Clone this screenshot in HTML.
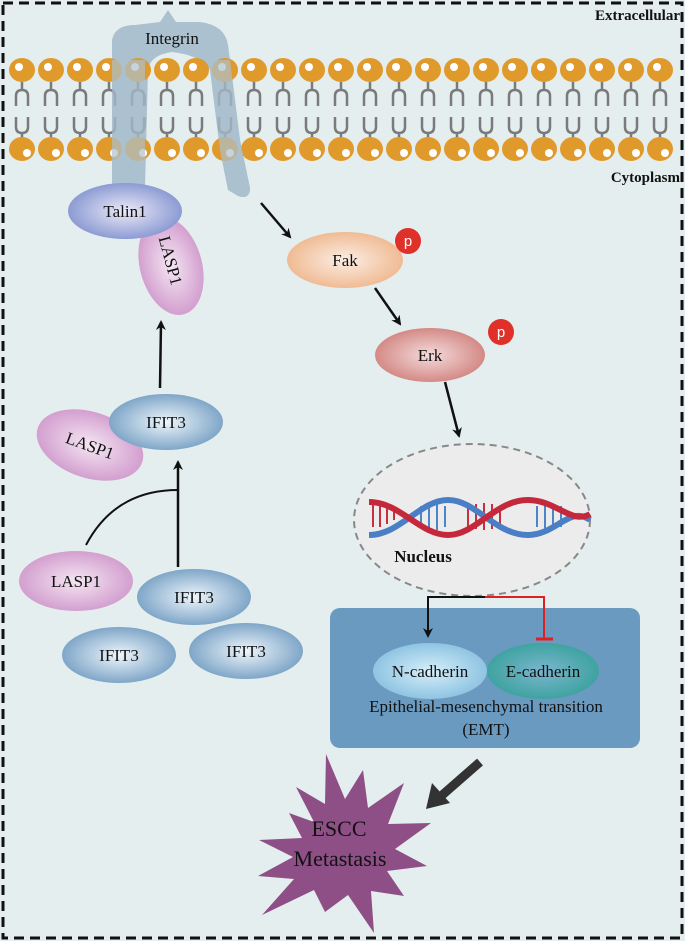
<!DOCTYPE html>
<html><head><meta charset="utf-8"><style>
html,body{margin:0;padding:0;background:#fff}
svg{display:block}
text{font-family:"Liberation Serif",serif;fill:#111}
</style></head><body>
<svg width="685" height="941" viewBox="0 0 685 941" xmlns="http://www.w3.org/2000/svg">
<defs>
<radialGradient id="gBlue"><stop offset="0" stop-color="#eef6fb"/><stop offset="1" stop-color="#7fa6c8"/></radialGradient>
<radialGradient id="gPink"><stop offset="0" stop-color="#f5e6f3"/><stop offset="1" stop-color="#d39fcf"/></radialGradient>
<radialGradient id="gTalin"><stop offset="0" stop-color="#eceaf8"/><stop offset="1" stop-color="#8c9bd3"/></radialGradient>
<radialGradient id="gFak"><stop offset="0" stop-color="#fbeee4"/><stop offset="1" stop-color="#f0bb94"/></radialGradient>
<radialGradient id="gErk"><stop offset="0" stop-color="#f3dcdc"/><stop offset="1" stop-color="#d48a86"/></radialGradient>
<radialGradient id="gN"><stop offset="0" stop-color="#d6effa"/><stop offset="1" stop-color="#8fc4e2"/></radialGradient>
<radialGradient id="gE"><stop offset="0" stop-color="#7ab6cf"/><stop offset="1" stop-color="#3fa3a0"/></radialGradient>
<marker id="ah" markerWidth="10" markerHeight="10" refX="8" refY="5" orient="auto" markerUnits="userSpaceOnUse"><path d="M0,0 L10,5 L0,10 L3,5 z" fill="#111"/></marker>
</defs>
<rect x="0" y="0" width="685" height="941" fill="#e4eeee"/>
<rect x="3" y="3" width="679" height="935" fill="none" stroke="#111" stroke-width="3" stroke-dasharray="10,6"/>

<!-- Integrin -->
<path d="M112,40 Q115,25 135,25 L160,22 L168,10 L176,22 L200,22 Q225,25 228,45 L230,60 L240,140 L250,188 Q250,200 238,196 L228,190 L220,150 L210,70 Q200,55 172,52 Q150,55 148,70 L145,188 L112,188 Z" fill="#abc1cf"/>
<text x="172" y="44" font-size="17" text-anchor="middle">Integrin</text>

<g>
<g stroke="#7a7a7a" stroke-width="2.5" fill="none">
<path d="M22,82 v8 M16,106 v-10 q0,-6 6,-6 q6,0 6,6 v10 M16,117 v10 q0,6 6,6 q6,0 6,-6 v-10 M22,133 v8
M51,82 v8 M45,106 v-10 q0,-6 6,-6 q6,0 6,6 v10 M45,117 v10 q0,6 6,6 q6,0 6,-6 v-10 M51,133 v8
M80,82 v8 M74,106 v-10 q0,-6 6,-6 q6,0 6,6 v10 M74,117 v10 q0,6 6,6 q6,0 6,-6 v-10 M80,133 v8
M109,82 v8 M103,106 v-10 q0,-6 6,-6 q6,0 6,6 v10 M103,117 v10 q0,6 6,6 q6,0 6,-6 v-10 M109,133 v8
M138,82 v8 M132,106 v-10 q0,-6 6,-6 q6,0 6,6 v10 M132,117 v10 q0,6 6,6 q6,0 6,-6 v-10 M138,133 v8
M167,82 v8 M161,106 v-10 q0,-6 6,-6 q6,0 6,6 v10 M161,117 v10 q0,6 6,6 q6,0 6,-6 v-10 M167,133 v8
M196,82 v8 M190,106 v-10 q0,-6 6,-6 q6,0 6,6 v10 M190,117 v10 q0,6 6,6 q6,0 6,-6 v-10 M196,133 v8
M225,82 v8 M219,106 v-10 q0,-6 6,-6 q6,0 6,6 v10 M219,117 v10 q0,6 6,6 q6,0 6,-6 v-10 M225,133 v8
M254,82 v8 M248,106 v-10 q0,-6 6,-6 q6,0 6,6 v10 M248,117 v10 q0,6 6,6 q6,0 6,-6 v-10 M254,133 v8
M283,82 v8 M277,106 v-10 q0,-6 6,-6 q6,0 6,6 v10 M277,117 v10 q0,6 6,6 q6,0 6,-6 v-10 M283,133 v8
M312,82 v8 M306,106 v-10 q0,-6 6,-6 q6,0 6,6 v10 M306,117 v10 q0,6 6,6 q6,0 6,-6 v-10 M312,133 v8
M341,82 v8 M335,106 v-10 q0,-6 6,-6 q6,0 6,6 v10 M335,117 v10 q0,6 6,6 q6,0 6,-6 v-10 M341,133 v8
M370,82 v8 M364,106 v-10 q0,-6 6,-6 q6,0 6,6 v10 M364,117 v10 q0,6 6,6 q6,0 6,-6 v-10 M370,133 v8
M399,82 v8 M393,106 v-10 q0,-6 6,-6 q6,0 6,6 v10 M393,117 v10 q0,6 6,6 q6,0 6,-6 v-10 M399,133 v8
M428,82 v8 M422,106 v-10 q0,-6 6,-6 q6,0 6,6 v10 M422,117 v10 q0,6 6,6 q6,0 6,-6 v-10 M428,133 v8
M457,82 v8 M451,106 v-10 q0,-6 6,-6 q6,0 6,6 v10 M451,117 v10 q0,6 6,6 q6,0 6,-6 v-10 M457,133 v8
M486,82 v8 M480,106 v-10 q0,-6 6,-6 q6,0 6,6 v10 M480,117 v10 q0,6 6,6 q6,0 6,-6 v-10 M486,133 v8
M515,82 v8 M509,106 v-10 q0,-6 6,-6 q6,0 6,6 v10 M509,117 v10 q0,6 6,6 q6,0 6,-6 v-10 M515,133 v8
M544,82 v8 M538,106 v-10 q0,-6 6,-6 q6,0 6,6 v10 M538,117 v10 q0,6 6,6 q6,0 6,-6 v-10 M544,133 v8
M573,82 v8 M567,106 v-10 q0,-6 6,-6 q6,0 6,6 v10 M567,117 v10 q0,6 6,6 q6,0 6,-6 v-10 M573,133 v8
M602,82 v8 M596,106 v-10 q0,-6 6,-6 q6,0 6,6 v10 M596,117 v10 q0,6 6,6 q6,0 6,-6 v-10 M602,133 v8
M631,82 v8 M625,106 v-10 q0,-6 6,-6 q6,0 6,6 v10 M625,117 v10 q0,6 6,6 q6,0 6,-6 v-10 M631,133 v8
M660,82 v8 M654,106 v-10 q0,-6 6,-6 q6,0 6,6 v10 M654,117 v10 q0,6 6,6 q6,0 6,-6 v-10 M660,133 v8"/>
</g>
<g fill="#e09a2c">
<ellipse cx="22" cy="70" rx="13" ry="12"/><ellipse cx="51" cy="70" rx="13" ry="12"/><ellipse cx="80" cy="70" rx="13" ry="12"/><ellipse cx="109" cy="70" rx="13" ry="12"/><ellipse cx="138" cy="70" rx="13" ry="12"/><ellipse cx="167" cy="70" rx="13" ry="12"/><ellipse cx="196" cy="70" rx="13" ry="12"/><ellipse cx="225" cy="70" rx="13" ry="12"/><ellipse cx="254" cy="70" rx="13" ry="12"/><ellipse cx="283" cy="70" rx="13" ry="12"/><ellipse cx="312" cy="70" rx="13" ry="12"/><ellipse cx="341" cy="70" rx="13" ry="12"/><ellipse cx="370" cy="70" rx="13" ry="12"/><ellipse cx="399" cy="70" rx="13" ry="12"/><ellipse cx="428" cy="70" rx="13" ry="12"/><ellipse cx="457" cy="70" rx="13" ry="12"/><ellipse cx="486" cy="70" rx="13" ry="12"/><ellipse cx="515" cy="70" rx="13" ry="12"/><ellipse cx="544" cy="70" rx="13" ry="12"/><ellipse cx="573" cy="70" rx="13" ry="12"/><ellipse cx="602" cy="70" rx="13" ry="12"/><ellipse cx="631" cy="70" rx="13" ry="12"/><ellipse cx="660" cy="70" rx="13" ry="12"/>
<ellipse cx="22" cy="149" rx="13" ry="12"/><ellipse cx="51" cy="149" rx="13" ry="12"/><ellipse cx="80" cy="149" rx="13" ry="12"/><ellipse cx="109" cy="149" rx="13" ry="12"/><ellipse cx="138" cy="149" rx="13" ry="12"/><ellipse cx="167" cy="149" rx="13" ry="12"/><ellipse cx="196" cy="149" rx="13" ry="12"/><ellipse cx="225" cy="149" rx="13" ry="12"/><ellipse cx="254" cy="149" rx="13" ry="12"/><ellipse cx="283" cy="149" rx="13" ry="12"/><ellipse cx="312" cy="149" rx="13" ry="12"/><ellipse cx="341" cy="149" rx="13" ry="12"/><ellipse cx="370" cy="149" rx="13" ry="12"/><ellipse cx="399" cy="149" rx="13" ry="12"/><ellipse cx="428" cy="149" rx="13" ry="12"/><ellipse cx="457" cy="149" rx="13" ry="12"/><ellipse cx="486" cy="149" rx="13" ry="12"/><ellipse cx="515" cy="149" rx="13" ry="12"/><ellipse cx="544" cy="149" rx="13" ry="12"/><ellipse cx="573" cy="149" rx="13" ry="12"/><ellipse cx="602" cy="149" rx="13" ry="12"/><ellipse cx="631" cy="149" rx="13" ry="12"/><ellipse cx="660" cy="149" rx="13" ry="12"/>
</g>
<g fill="#fff">
<circle cx="19" cy="67" r="4"/><circle cx="48" cy="67" r="4"/><circle cx="77" cy="67" r="4"/><circle cx="106" cy="67" r="4"/><circle cx="135" cy="67" r="4"/><circle cx="164" cy="67" r="4"/><circle cx="193" cy="67" r="4"/><circle cx="222" cy="67" r="4"/><circle cx="251" cy="67" r="4"/><circle cx="280" cy="67" r="4"/><circle cx="309" cy="67" r="4"/><circle cx="338" cy="67" r="4"/><circle cx="367" cy="67" r="4"/><circle cx="396" cy="67" r="4"/><circle cx="425" cy="67" r="4"/><circle cx="454" cy="67" r="4"/><circle cx="483" cy="67" r="4"/><circle cx="512" cy="67" r="4"/><circle cx="541" cy="67" r="4"/><circle cx="570" cy="67" r="4"/><circle cx="599" cy="67" r="4"/><circle cx="628" cy="67" r="4"/><circle cx="657" cy="67" r="4"/>
<circle cx="27" cy="153" r="4"/><circle cx="56" cy="153" r="4"/><circle cx="85" cy="153" r="4"/><circle cx="114" cy="153" r="4"/><circle cx="143" cy="153" r="4"/><circle cx="172" cy="153" r="4"/><circle cx="201" cy="153" r="4"/><circle cx="230" cy="153" r="4"/><circle cx="259" cy="153" r="4"/><circle cx="288" cy="153" r="4"/><circle cx="317" cy="153" r="4"/><circle cx="346" cy="153" r="4"/><circle cx="375" cy="153" r="4"/><circle cx="404" cy="153" r="4"/><circle cx="433" cy="153" r="4"/><circle cx="462" cy="153" r="4"/><circle cx="491" cy="153" r="4"/><circle cx="520" cy="153" r="4"/><circle cx="549" cy="153" r="4"/><circle cx="578" cy="153" r="4"/><circle cx="607" cy="153" r="4"/><circle cx="636" cy="153" r="4"/><circle cx="665" cy="153" r="4"/>
</g>
</g>
<path d="M112,60 L145,60 L145,188 L112,188 Z" fill="#abc1cf" opacity="0.7"/>
<path d="M210,60 L230,60 L240,140 L250,188 Q250,200 238,196 L228,190 L220,150 Z" fill="#abc1cf" opacity="0.7"/>

<text x="680" y="20" font-size="15" font-weight="bold" text-anchor="end">Extracellular</text>
<text x="680" y="182" font-size="15" font-weight="bold" text-anchor="end">Cytoplasm</text>

<ellipse cx="171" cy="266" rx="31" ry="50" transform="rotate(-15 171 266)" fill="url(#gPink)"/>
<text font-size="17" transform="translate(165,262) rotate(75)" text-anchor="middle">LASP1</text>
<ellipse cx="125" cy="211" rx="57" ry="28" fill="url(#gTalin)"/>
<text x="125" y="217" font-size="17" text-anchor="middle">Talin1</text>

<line x1="160" y1="388" x2="161" y2="322" stroke="#111" stroke-width="2.5" marker-end="url(#ah)"/>

<ellipse cx="90" cy="445" rx="55" ry="33" transform="rotate(18 90 445)" fill="url(#gPink)"/>
<text font-size="17" transform="translate(88,451) rotate(20)" text-anchor="middle">LASP1</text>
<ellipse cx="166" cy="422" rx="57" ry="28" fill="url(#gBlue)"/>
<text x="166" y="428" font-size="17" text-anchor="middle">IFIT3</text>

<path d="M86,545 Q115,490 178,490" fill="none" stroke="#111" stroke-width="2"/>
<line x1="178" y1="567" x2="178" y2="462" stroke="#111" stroke-width="2.5" marker-end="url(#ah)"/>

<ellipse cx="76" cy="581" rx="57" ry="30" fill="url(#gPink)"/>
<text x="76" y="587" font-size="17" text-anchor="middle">LASP1</text>
<ellipse cx="194" cy="597" rx="57" ry="28" fill="url(#gBlue)"/>
<text x="194" y="603" font-size="17" text-anchor="middle">IFIT3</text>
<ellipse cx="119" cy="655" rx="57" ry="28" fill="url(#gBlue)"/>
<text x="119" y="661" font-size="17" text-anchor="middle">IFIT3</text>
<ellipse cx="246" cy="651" rx="57" ry="28" fill="url(#gBlue)"/>
<text x="246" y="657" font-size="17" text-anchor="middle">IFIT3</text>

<line x1="261" y1="203" x2="290" y2="237" stroke="#111" stroke-width="2.5" marker-end="url(#ah)"/>
<ellipse cx="345" cy="260" rx="58" ry="28" fill="url(#gFak)"/>
<text x="345" y="266" font-size="17" text-anchor="middle">Fak</text>
<circle cx="408" cy="241" r="13" fill="#e0302a"/>
<text x="408" y="246" font-size="15" text-anchor="middle" style="font-family:'Liberation Sans',sans-serif;fill:#fff">p</text>

<line x1="375" y1="288" x2="400" y2="324" stroke="#111" stroke-width="2.5" marker-end="url(#ah)"/>
<ellipse cx="430" cy="355" rx="55" ry="27" fill="url(#gErk)"/>
<text x="430" y="361" font-size="17" text-anchor="middle">Erk</text>
<circle cx="501" cy="332" r="13" fill="#e0302a"/>
<text x="501" y="337" font-size="15" text-anchor="middle" style="font-family:'Liberation Sans',sans-serif;fill:#fff">p</text>

<line x1="445" y1="382" x2="459" y2="436" stroke="#111" stroke-width="2.5" marker-end="url(#ah)"/>

<ellipse cx="472" cy="520" rx="118" ry="76" fill="#ececec" stroke="#888" stroke-width="2" stroke-dasharray="7,5"/>
<g stroke-width="2">
<g stroke="#c83040"><line x1="373" y1="503" x2="373" y2="527"/><line x1="380" y1="503" x2="380" y2="527"/><line x1="387" y1="504" x2="387" y2="524"/><line x1="394" y1="506" x2="394" y2="520"/><line x1="468" y1="506" x2="468" y2="527"/><line x1="476" y1="504" x2="476" y2="529"/><line x1="484" y1="503" x2="484" y2="530"/><line x1="492" y1="504" x2="492" y2="529"/><line x1="500" y1="506" x2="500" y2="527"/></g>
<g stroke="#4a86c8"><line x1="421" y1="506" x2="421" y2="527"/><line x1="429" y1="504" x2="429" y2="530"/><line x1="437" y1="504" x2="437" y2="530"/><line x1="445" y1="506" x2="445" y2="527"/><line x1="537" y1="506" x2="537" y2="527"/><line x1="545" y1="504" x2="545" y2="530"/><line x1="553" y1="504" x2="553" y2="530"/><line x1="561" y1="506" x2="561" y2="527"/></g>
</g>
<path d="M369,535 C400,535 420,500 448,500 C476,500 495,535 528,535 C556,535 570,505 590,520" fill="none" stroke="#4a7fc6" stroke-width="6"/>
<path d="M369,502 C400,502 420,535 448,535 C476,535 495,500 528,500 C556,500 572,525 590,514" fill="none" stroke="#c5283a" stroke-width="6"/>
<text x="423" y="562" font-size="17" font-weight="bold" text-anchor="middle">Nucleus</text>

<rect x="330" y="608" width="310" height="140" rx="10" fill="#6a9ac0"/>
<path d="M485,597 L428,597 L428,636" fill="none" stroke="#111" stroke-width="2" marker-end="url(#ah)"/>
<path d="M485,597 L544,597 L544,638" fill="none" stroke="#e02020" stroke-width="2"/>
<line x1="536" y1="639" x2="553" y2="639" stroke="#e02020" stroke-width="3"/>
<ellipse cx="430" cy="671" rx="57" ry="28" fill="url(#gN)"/>
<text x="430" y="677" font-size="17" text-anchor="middle">N-cadherin</text>
<ellipse cx="543" cy="671" rx="56" ry="28" fill="url(#gE)"/>
<text x="543" y="677" font-size="17" text-anchor="middle">E-cadherin</text>
<text x="486" y="712" font-size="17" text-anchor="middle">Epithelial-mesenchymal transition</text>
<text x="486" y="735" font-size="17" text-anchor="middle">(EMT)</text>

<line x1="480" y1="762" x2="440" y2="797" stroke="#333" stroke-width="9"/>
<polygon points="426,809 432,783 450,803" fill="#333"/>

<polygon points="326,754 345,799 363,770 368,808 404,783 388,824 431,823 395,849 427,866 387,871 404,896 371,891 374,933 348,895 325,912 314,890 262,915 294,879 258,876 293,857 259,840 302,838 289,813 314,822 296,787 325,804" fill="#8e4f86"/>
<text x="339" y="836" font-size="22" text-anchor="middle">ESCC</text>
<text x="340" y="866" font-size="22" text-anchor="middle">Metastasis</text>
</svg>
</body></html>
